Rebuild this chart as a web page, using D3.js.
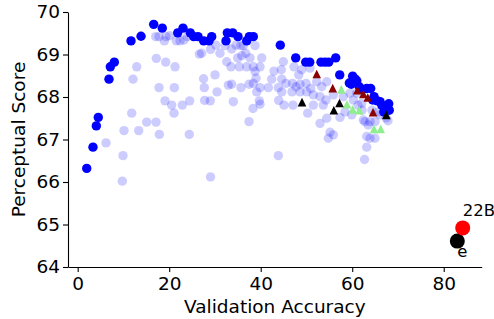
<!DOCTYPE html>
<html>
<head>
<meta charset="utf-8">
<script src="https://cdn.jsdelivr.net/npm/d3@7"></script>
<style>
  html, body { margin: 0; padding: 0; background: #fff; }
  svg { display: block; }
  text { font-family: "DejaVu Sans", sans-serif; fill: #000; }
</style>
</head>
<body>
<svg id="chart" width="494" height="319"></svg>
<script>
// ---------- data ----------
const xTicks = [0, 20, 40, 60, 80];
const yTicks = [64, 65, 66, 67, 68, 69, 70];

// faint (all runs)
const lightPoints = [
  [17.05,69.42],[17.77,69.42],[19.30,69.42],[20.11,69.44],[18.93,69.32],[21.55,69.32],[22.36,69.32],
  [23.24,69.34],[23.96,69.42],[26.58,69.01],[29.03,69.12],[30.19,69.22],[31.10,69.03],[17.18,68.91],
  [19.24,68.82],[21.27,68.71],[12.90,68.71],[12.09,68.42],[17.77,68.22],[21.12,68.22],[27.50,68.43],
  [27.67,68.22],[30.01,68.52],[30.45,68.12],[19.08,67.91],[20.55,67.81],[22.86,67.81],[24.48,67.91],
  [21.05,67.62],[27.74,67.92],[28.98,67.91],[11.80,67.62],[15.08,67.41],[17.11,67.41],[10.12,67.21],
  [13.33,67.21],[17.84,67.12],[24.39,67.12],[6.19,66.92],[9.90,66.62],[9.75,66.02],[29.03,66.12],
  [27.10,69.03],[32.20,69.21],[32.57,68.83],[33.66,69.13],[34.60,69.22],[35.63,69.21],[36.20,69.21],
  [34.97,68.92],[35.85,68.97],[36.72,69.03],[37.66,68.92],[38.75,69.21],[40.22,68.92],[33.51,68.71],
  [35.32,68.71],[36.94,68.71],[38.38,68.71],[39.85,68.71],[38.75,68.60],[42.91,68.61],[44.50,68.64],
  [44.94,68.83],[48.31,68.52],[38.97,68.44],[42.40,68.42],[44.59,68.42],[45.53,68.32],[46.95,68.32],
  [47.72,68.24],[33.66,68.30],[35.69,68.22],[37.44,68.30],[38.38,68.32],[39.85,68.22],[41.66,68.22],
  [43.85,68.22],[46.84,68.12],[39.13,68.12],[34.01,67.89],[39.69,67.91],[39.85,67.83],[38.32,67.73],
  [43.93,67.92],[47.06,67.81],[32.92,68.28],[37.44,67.42],[50.27,67.62],[43.85,66.62],[47.28,68.71],
  [48.96,68.64],[50.78,68.68],[48.59,68.30],[49.90,68.32],[50.93,68.20],[52.24,68.36],[53.33,68.24],
  [54.43,68.36],[44.59,68.12],[48.59,68.12],[50.05,68.12],[51.50,68.05],[52.96,68.01],[54.27,67.93],
  [55.87,68.05],[58.05,68.01],[59.52,68.09],[45.09,67.81],[51.50,67.81],[53.68,67.81],[58.43,67.65],
  [59.89,67.58],[62.43,67.46],[63.52,67.34],[54.43,67.50],[52.96,67.38],[55.15,67.17],[55.87,67.11],
  [54.78,67.03],[63.17,67.07],[60.11,68.36],[60.98,68.09],[60.24,67.93],[62.08,67.85],[62.80,67.42],
  [63.89,67.42],[64.98,67.42],[63.89,67.03],[64.98,67.03],[63.17,66.82],[62.69,66.53],[65.70,67.65],
  [57.33,67.52],[64.33,67.69],[66.08,67.58],[67.39,67.51],[67.82,67.44],[61.27,67.81],[62.14,67.69]
];

// solid blue (best runs)
const bluePoints = [
  [1.97,66.32],[3.34,66.82],[4.07,67.32],[4.50,67.52],[6.84,68.42],[7.13,68.71],[8.00,68.82],
  [11.65,69.32],[13.84,69.43],[16.61,69.71],[18.49,69.62],[21.86,69.51],[23.02,69.62],[24.61,69.51],
  [25.36,69.42],[26.30,69.42],[27.54,69.32],[28.70,69.32],[29.29,69.42],[32.42,69.32],[32.70,69.51],
  [33.88,69.51],[35.04,69.42],[36.94,69.32],[37.51,69.42],[38.38,69.42],[44.28,69.22],[47.65,68.92],
  [49.84,68.82],[50.71,68.82],[53.18,68.82],[54.05,68.82],[54.86,68.82],[56.39,68.92],[57.27,68.52],
  [59.37,68.33],[59.80,68.30],[60.10,68.49],[60.68,68.42],[61.00,68.38],[61.55,68.24],[62.30,68.18],
  [63.17,68.20],[64.04,68.20],[64.77,68.01],[64.48,67.93],[65.49,67.91],[66.08,67.89],[66.45,67.81],
  [67.98,67.84],[67.17,67.72],[68.10,67.69],[66.90,67.65]
];

const darkRedTriangles = [
  [52.24,68.54],[55.74,68.21],[61.12,68.16],[62.43,68.07],[63.39,67.99],[64.55,67.64]
];
const blackTriangles = [
  [49.03,67.88],[57.22,67.86],[55.98,67.69],[67.45,67.58]
];
const greenTriangles = [
  [57.62,68.18],[58.86,67.83],[60.11,67.71],[61.53,67.69],[64.77,67.25],[66.23,67.25]
];

const highlights = [
  { label: "22B", x: 84.15, y: 64.92, color: "#ff0000", dx: 0, dy: -12 },
  { label: "e",   x: 82.97, y: 64.61, color: "#000000", dx: 0, dy: 16 }
];

// ---------- chart ----------
const svg = d3.select("#chart");
const x = d3.scaleLinear().domain([-2.12, 88.3]).range([68, 481.7]);
const y = d3.scaleLinear().domain([64, 70]).range([267, 12]);

// axes
const xAxis = svg.append("g")
  .attr("transform", "translate(0,267)")
  .call(d3.axisBottom(x).tickValues(xTicks).tickSize(5).tickSizeOuter(0).tickPadding(5).tickFormat(d3.format("d")));
const yAxis = svg.append("g")
  .attr("transform", "translate(68,0)")
  .call(d3.axisLeft(y).tickValues(yTicks).tickSize(5).tickSizeOuter(0).tickPadding(3).tickFormat(d3.format("d")));

[xAxis, yAxis].forEach(g => {
  g.selectAll("path.domain").attr("stroke", "#000").attr("stroke-width", 1.1);
  g.selectAll(".tick line").attr("stroke", "#000").attr("stroke-width", 1.1);
  g.selectAll(".tick text").attr("font-size", 18.5).attr("font-family", "DejaVu Sans, sans-serif").attr("fill", "#000");
});

svg.append("text")
  .attr("x", x((x.domain()[0] + x.domain()[1]) / 2))
  .attr("y", 313)
  .attr("text-anchor", "middle")
  .attr("font-size", 18.5)
  .text("Validation Accuracy");

svg.append("text")
  .attr("transform", `translate(25,${(y(64) + y(70)) / 2}) rotate(-90)`)
  .attr("text-anchor", "middle")
  .attr("font-size", 18.5)
  .text("Perceptual Score");

// marks
const r = 4.7;
svg.append("g").selectAll("circle").data(lightPoints).join("circle")
  .attr("cx", d => x(d[0])).attr("cy", d => y(d[1])).attr("r", r)
  .attr("fill", "#0000ff").attr("fill-opacity", 0.2);

svg.append("g").selectAll("circle").data(bluePoints).join("circle")
  .attr("cx", d => x(d[0])).attr("cy", d => y(d[1])).attr("r", r)
  .attr("fill", "#0000ff");

const tri = s => `M0,${-s}L${s},${s}L${-s},${s}Z`;
function drawTriangles(data, color) {
  svg.append("g").selectAll("path").data(data).join("path")
    .attr("d", tri(4.3))
    .attr("transform", d => `translate(${x(d[0])},${y(d[1])})`)
    .attr("fill", color);
}
drawTriangles(greenTriangles, "#90ee90");
drawTriangles(darkRedTriangles, "#8b0000");
drawTriangles(blackTriangles, "#000000");

const hl = svg.append("g");
hl.selectAll("circle").data(highlights.slice().reverse()).join("circle")
  .attr("cx", d => x(d.x)).attr("cy", d => y(d.y)).attr("r", 7.5)
  .attr("fill", d => d.color);
hl.selectAll("text").data(highlights).join("text")
  .attr("x", d => x(d.x) + d.dx).attr("y", d => y(d.y) + d.dy)
  .attr("font-size", 16.5)
  .attr("fill", d => d.color)
  .text(d => d.label);
</script>
</body>
</html>
